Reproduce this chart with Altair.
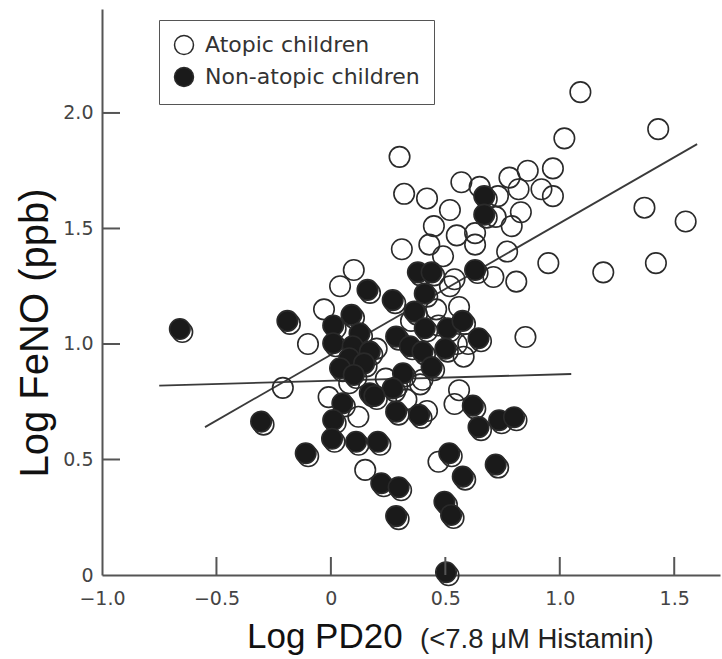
import altair as alt
import pandas as pd

# ---------------- data ----------------
groups = ["Atopic children", "Non-atopic children"]

atopic_x = [1.09, 1.43, 1.02, 0.30, 0.97, 0.86, 0.78, 0.57, 0.65, 0.92,
            0.82, 0.97, 0.32, 0.42, 0.73, 0.52, 0.83, 0.72, 0.79, 0.45,
            0.55, 0.63, 0.63, 0.49, 0.31, 0.43, 0.77, 0.95, 1.19, 1.42,
            1.37, 1.55, 0.81, 0.71, 0.54, 0.52, 0.10, 0.04, -0.03, -0.10,
            -0.21, -0.01, 0.12, 0.15, 0.47, 0.54, 0.56, 0.85, 0.55, 0.58,
            0.42, 0.29, 0.39, 0.40, 0.60, 0.20, 0.24, 0.35, 0.46, 0.47,
            0.33, 0.08, 0.56]
atopic_y = [2.09, 1.93, 1.89, 1.81, 1.76, 1.75, 1.72, 1.70, 1.68, 1.67,
            1.67, 1.64, 1.65, 1.63, 1.64, 1.58, 1.57, 1.55, 1.51, 1.51,
            1.47, 1.48, 1.43, 1.38, 1.41, 1.43, 1.40, 1.35, 1.31, 1.35,
            1.59, 1.53, 1.27, 1.29, 1.28, 1.25, 1.32, 1.25, 1.15, 1.00,
            0.81, 0.77, 0.685, 0.455, 0.49, 0.74, 0.80, 1.03, 1.00, 0.945,
            0.71, 0.815, 0.825, 0.845, 1.00, 0.98, 0.85, 1.10, 1.15, 1.08,
            0.76, 0.83, 1.16]

nonatopic_x = [-0.66, -0.19, -0.305, -0.11, 0.67, 0.67, 0.38, 0.44, 0.63, 0.16,
               0.27, 0.41, 0.365, 0.09, 0.01, 0.125, 0.41, 0.51, 0.575, 0.01,
               0.095, 0.17, 0.285, 0.345, 0.40, 0.50, 0.645, 0.08, 0.145, 0.04,
               0.10, 0.44, 0.315, 0.27, 0.17, 0.05, 0.01, 0.285, 0.385, 0.62,
               0.645, 0.735, 0.80, 0.005, 0.11, 0.205, 0.22, 0.296, 0.285, 0.517,
               0.576, 0.496, 0.525, 0.503, 0.72, 0.19]
nonatopic_y = [1.065, 1.10, 0.664, 0.527, 1.64, 1.56, 1.31, 1.31, 1.32, 1.234,
               1.19, 1.218, 1.14, 1.126, 1.08, 1.046, 1.068, 1.068, 1.10, 1.003,
               0.99, 0.967, 1.032, 0.99, 0.967, 0.98, 1.025, 0.938, 0.916, 0.895,
               0.866, 0.90, 0.873, 0.808, 0.787, 0.743, 0.671, 0.707, 0.693, 0.733,
               0.64, 0.67, 0.683, 0.59, 0.577, 0.577, 0.397, 0.38, 0.255, 0.527,
               0.426, 0.317, 0.26, 0.012, 0.478, 0.775]

# regression lines (atopic, non-atopic)
line_x1 = [-0.55, -0.75]
line_y1 = [0.64, 0.82]
line_x2 = [1.60, 1.05]
line_y2 = [1.865, 0.87]

x_ticks = [-1.0, -0.5, 0, 0.5, 1.0, 1.5]
y_ticks = [0, 0.5, 1.0, 1.5, 2.0]
x_inner_ticks = [-0.5, 0, 0.5, 1.0, 1.5]
y_inner_ticks = [0.5, 1.0, 1.5, 2.0]

y_title = "Log FeNO (ppb)"
x_title_main = "Log PD20"
x_title_sub = "(<7.8 \u03bcM Histamin)"

# ---------------- tables ----------------
pts = pd.DataFrame({
    "x": atopic_x + nonatopic_x,
    "y": atopic_y + nonatopic_y,
    "group": [groups[0]] * len(atopic_x) + [groups[1]] * len(nonatopic_x),
})
rings = pd.DataFrame({"x": nonatopic_x, "y": nonatopic_y})
lines = pd.DataFrame({"x": line_x1, "y": line_y1, "x2": line_x2, "y2": line_y2})
xt = pd.DataFrame({"x": x_inner_ticks})
yt = pd.DataFrame({"y": y_inner_ticks})
one = pd.DataFrame({"a": [0]})

W, H = 618, 566
xs = alt.Scale(domain=[-1.0, 1.7], nice=False, zero=False)
ys = alt.Scale(domain=[0, 2.45], nice=False, zero=False)

lab_expr = "datum.value == 0 ? '0' : replace(format(datum.value, '.1f'), '-', '\u2212')"
xaxis = alt.Axis(values=x_ticks, title=None, ticks=False, tickSize=0, labelPadding=14,
                 labelFont="DejaVu Sans", labelFontSize=19, labelColor="#444",
                 domainColor="#555", domainWidth=2, grid=False, labelExpr=lab_expr,
                 labelFlush=False, labelOverlap=False)
yaxis = alt.Axis(values=y_ticks, title=None, ticks=False, tickSize=0, labelPadding=9,
                 labelFont="DejaVu Sans", labelFontSize=19, labelColor="#444",
                 domainColor="#555", domainWidth=2, grid=False, labelExpr=lab_expr,
                 labelOverlap=False)

X = alt.X("x:Q", scale=xs, axis=xaxis)
Y = alt.Y("y:Q", scale=ys, axis=yaxis)

reg = alt.Chart(lines).mark_rule(color="#3a3a3a", strokeWidth=1.8).encode(
    x=X, y=Y, x2="x2:Q", y2="y2:Q")

ring_layer = alt.Chart(rings).mark_point(
    shape="circle", size=420, stroke="#2a2a2a", strokeWidth=1.6,
    fillOpacity=0, opacity=1, xOffset=2.5, yOffset=3
).encode(x=X, y=Y)

point_layer = alt.Chart(pts).mark_point(
    shape="circle", filled=True, size=420, stroke="#2a2a2a", strokeWidth=1.6, opacity=1
).encode(
    x=X, y=Y,
    fill=alt.Fill("group:N", scale=alt.Scale(domain=groups, range=["transparent", "#1a1a1a"]),
                  legend=alt.Legend(title=None, orient="none", legendX=57, legendY=11,
                                    strokeColor="#555", fillColor="white", padding=14,
                                    rowPadding=6, symbolSize=360, symbolStrokeWidth=1.5,
                                    symbolStrokeColor="#2a2a2a", symbolType="circle",
                                    labelFont="DejaVu Sans", labelFontSize=22,
                                    labelColor="#333", labelOffset=10, labelLimit=400)),
)

xtick_layer = alt.Chart(xt).mark_rule(color="#555", strokeWidth=2).encode(
    x=X, y=alt.value(H), y2=alt.value(H - 18))
ytick_layer = alt.Chart(yt).mark_rule(color="#555", strokeWidth=2).encode(
    y=Y, x=alt.value(0), x2=alt.value(18))

ytitle = alt.Chart(one).mark_text(
    angle=270, font="Liberation Sans", fontSize=40, align="center", baseline="middle", color="#111"
).encode(x=alt.value(-66), y=alt.value(324), text=alt.value(y_title))

xtitle1 = alt.Chart(one).mark_text(
    font="Liberation Sans", fontSize=35, align="left", baseline="alphabetic", color="#111"
).encode(x=alt.value(145), y=alt.value(639), text=alt.value(x_title_main))

xtitle2 = alt.Chart(one).mark_text(
    font="Liberation Sans", fontSize=27.5, align="left", baseline="alphabetic", color="#222"
).encode(x=alt.value(318), y=alt.value(639), text=alt.value(x_title_sub))

chart = alt.layer(
    reg, ring_layer, point_layer, xtick_layer, ytick_layer, ytitle, xtitle1, xtitle2
).properties(
    width=W, height=H,
    padding={"left": 102, "top": 9, "right": 2, "bottom": 84},
    autosize=alt.AutoSizeParams(type="none"),
    background="white",
).configure_view(stroke="transparent")

chart.save("out.html", embed_options={"renderer": "svg", "actions": False})
